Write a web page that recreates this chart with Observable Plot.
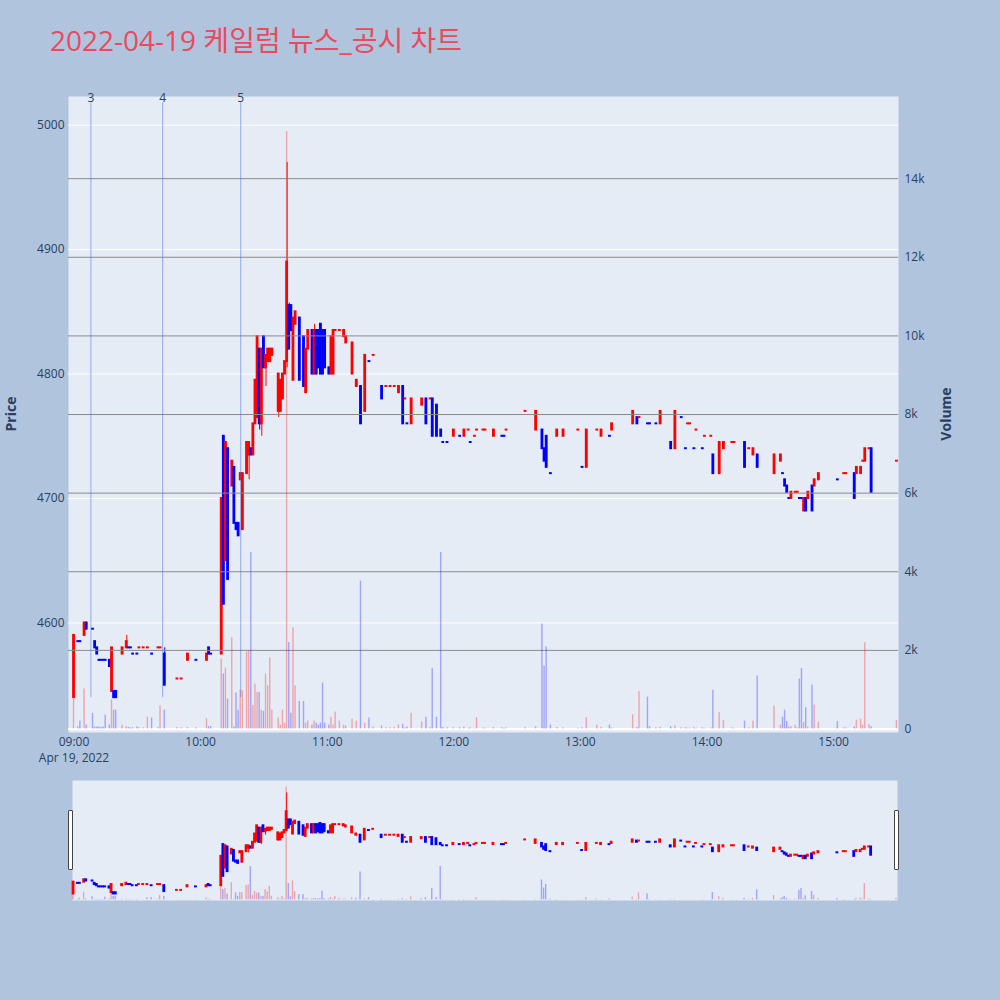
<!DOCTYPE html>
<html>
<head>
<meta charset="utf-8">
<script src="https://cdn.jsdelivr.net/npm/d3@7"></script>
<script src="https://cdn.jsdelivr.net/npm/@observablehq/plot@0.6"></script>
<style>
  html, body { margin: 0; padding: 0; background: #B0C4DE; }
  #wrap { position: relative; width: 1000px; height: 1000px; background: #B0C4DE; overflow: hidden;
          font-family: "Open Sans", "Noto Sans CJK KR", sans-serif; color: #2a3f5f; }
  #wrap svg { position: absolute; left: 0; overflow: visible; }
  .title { position: absolute; left: 50px; top: 26px; font-size: 28px; line-height: 28px; color: #ea4a5e; white-space: nowrap;
           font-family: "Open Sans", "Noto Sans CJK KR", sans-serif; }
  .ylab { position: absolute; font-size: 14px; font-weight: bold; color: #2a3f5f; white-space: nowrap;
          transform: translate(-50%, -50%) rotate(-90deg); }
  .grab { position: absolute; width: 3px; height: 58px; background: #fff; border: 1px solid #444; border-radius: 1px; }
</style>
</head>
<body>
<div id="wrap">
  <div class="title">2022-04-19 케일럼 뉴스_공시 차트</div>
  <div class="ylab" style="left:10px; top:414px;">Price</div>
  <div class="ylab" style="left:945px; top:414px;">Volume</div>
</div>
<script>
// ---- data (1-minute candles) ----
const times = ["09:00","09:02","09:03","09:05","09:06","09:09","09:10","09:11","09:12","09:13","09:14","09:15","09:17","09:18","09:19","09:20","09:23","09:25","09:26","09:27","09:28","09:30","09:31","09:33","09:35","09:37","09:40","09:41","09:43","09:49","09:51","09:54","09:58",
"10:03","10:04","10:05","10:10","10:11","10:12","10:13","10:15","10:16","10:17","10:18","10:19","10:20","10:22","10:23","10:24","10:25","10:26","10:27","10:28","10:29","10:30","10:31","10:32","10:33","10:34","10:37","10:38","10:39","10:40","10:41","10:42","10:43","10:44","10:45","10:47","10:49","10:50","10:51","10:53","10:54","10:55","10:56","10:57","10:58","10:59",
"11:01","11:02","11:03","11:04","11:06","11:08","11:09","11:12","11:14","11:16","11:18","11:20","11:22","11:26","11:28","11:30","11:32","11:34","11:36","11:37","11:38","11:40","11:45","11:47","11:49","11:50","11:52","11:54","11:55","11:57",
"12:00","12:03","12:05","12:07","12:08","12:10","12:11","12:14","12:15","12:19","12:23","12:24","12:25","12:34","12:39","12:42","12:43","12:44","12:46","12:49","12:52","12:59",
"13:01","13:03","13:08","13:10","13:14","13:15","13:25","13:27","13:28","13:32","13:33","13:36","13:38","13:43","13:45","13:48","13:50","13:51","13:52","13:54","13:55","13:58","13:59",
"14:02","14:03","14:06","14:08","14:12","14:13","14:18","14:20","14:22","14:24","14:32","14:35","14:36","14:37","14:38","14:39","14:40","14:42","14:43","14:44","14:45","14:46","14:47","14:48","14:50","14:51","14:53",
"15:02","15:05","15:06","15:10","15:11","15:13","15:14","15:15","15:17","15:18","15:30"];
const opens = [4540,4585,4585,4590,4600,4595,4585,4580,4570,4570,4570,4570,4570,4545,4545,4545,4575,4580,4580,4580,4575,4575,4580,4580,4580,4575,4580,4580,4575,4555,4555,4570,4570,
4570,4580,4575,4575,4750,4650,4740,4710,4725,4680,4680,4715,4675,4720,4735,4740,4735,4760,4765,4820,4760,4830,4805,4810,4810,4815,4770,4770,4780,4800,4810,4855,4855,4795,4840,4845,4830,4785,4820,4835,4800,4835,4835,4840,4835,4835,
4805,4800,4800,4835,4835,4830,4825,4800,4790,4790,4770,4810,4815,4790,4790,4790,4790,4785,4790,4780,4760,4760,4775,4780,4780,4780,4775,4755,4745,4745,
4750,4750,4750,4755,4745,4750,4755,4755,4755,4750,4750,4750,4755,4770,4755,4755,4740,4750,4720,4750,4750,4755,
4725,4725,4755,4750,4750,4755,4760,4765,4765,4760,4760,4760,4760,4745,4740,4765,4740,4760,4760,4740,4755,4740,4750,
4750,4735,4720,4740,4745,4745,4745,4740,4735,4735,4720,4730,4720,4715,4710,4700,4700,4705,4705,4700,4700,4690,4700,4700,4710,4710,4715,
4715,4720,4720,4720,4720,4720,4730,4730,4740,4740,4730];
const highs = [4590,4585,4585,4600,4600,4595,4585,4580,4570,4570,4570,4570,4570,4580,4545,4545,4580,4590,4580,4580,4575,4575,4580,4580,4580,4575,4580,4580,4580,4555,4555,4575,4570,
4575,4580,4575,4700,4750,4745,4740,4730,4725,4680,4680,4720,4720,4745,4745,4740,4760,4795,4830,4820,4820,4830,4815,4820,4820,4820,4800,4795,4800,4810,4970,4857,4855,4845,4850,4845,4830,4820,4835,4835,4840,4835,4835,4840,4835,4835,
4805,4830,4835,4835,4835,4835,4830,4825,4795,4790,4815,4810,4815,4790,4790,4790,4790,4790,4790,4780,4760,4780,4780,4780,4780,4780,4775,4755,4745,4745,
4755,4750,4755,4755,4745,4750,4755,4755,4755,4755,4750,4750,4755,4770,4770,4755,4740,4750,4720,4755,4755,4755,
4725,4755,4755,4755,4750,4760,4770,4765,4765,4760,4760,4760,4770,4745,4770,4765,4740,4760,4760,4740,4755,4740,4750,
4750,4735,4745,4745,4745,4745,4745,4740,4740,4735,4735,4735,4720,4715,4710,4700,4705,4705,4705,4700,4700,4700,4700,4705,4710,4715,4720,
4715,4720,4720,4720,4725,4725,4730,4740,4740,4740,4730];
const lows = [4540,4585,4585,4590,4595,4595,4580,4575,4570,4570,4570,4570,4565,4545,4540,4540,4575,4580,4580,4580,4575,4575,4580,4580,4580,4575,4580,4580,4550,4555,4555,4570,4570,
4570,4575,4575,4575,4615,4650,4635,4710,4680,4675,4670,4715,4675,4720,4715,4735,4735,4760,4765,4755,4750,4805,4790,4810,4810,4815,4765,4770,4780,4800,4805,4820,4835,4795,4840,4795,4790,4785,4820,4800,4800,4800,4805,4800,4800,4805,
4800,4800,4800,4835,4835,4830,4825,4800,4790,4760,4770,4810,4815,4780,4790,4790,4790,4785,4760,4780,4760,4760,4775,4760,4780,4750,4750,4750,4745,4745,
4750,4750,4750,4755,4745,4750,4755,4755,4755,4750,4750,4750,4755,4770,4755,4740,4730,4725,4720,4750,4750,4755,
4725,4725,4755,4750,4750,4755,4760,4760,4765,4760,4760,4760,4760,4740,4740,4765,4740,4760,4760,4740,4755,4740,4750,
4750,4720,4720,4740,4745,4745,4725,4740,4735,4725,4720,4730,4720,4710,4705,4700,4700,4705,4705,4700,4700,4690,4690,4700,4690,4710,4715,
4715,4720,4720,4700,4720,4720,4730,4730,4740,4705,4730];
const closes = [4590,4585,4585,4600,4595,4595,4580,4575,4570,4570,4570,4570,4565,4580,4540,4540,4580,4585,4580,4580,4575,4575,4580,4580,4580,4575,4580,4580,4550,4555,4555,4575,4570,
4575,4575,4575,4700,4615,4745,4635,4730,4680,4675,4670,4720,4720,4745,4745,4735,4760,4795,4830,4760,4820,4805,4815,4820,4820,4820,4800,4795,4800,4810,4890,4820,4835,4845,4850,4795,4790,4820,4835,4800,4835,4800,4805,4800,4800,4805,
4800,4830,4835,4835,4835,4835,4830,4825,4795,4760,4815,4810,4815,4780,4790,4790,4790,4790,4760,4780,4760,4780,4780,4760,4780,4750,4750,4750,4745,4745,
4755,4750,4755,4755,4745,4750,4755,4755,4755,4755,4750,4750,4755,4770,4770,4740,4730,4725,4720,4755,4755,4755,
4725,4755,4755,4755,4750,4760,4770,4760,4765,4760,4760,4760,4770,4740,4770,4765,4740,4760,4760,4740,4755,4740,4750,
4750,4720,4745,4745,4745,4745,4725,4740,4740,4725,4735,4735,4720,4710,4705,4700,4705,4705,4705,4700,4700,4700,4690,4705,4690,4715,4720,
4715,4720,4720,4700,4725,4725,4730,4740,4740,4705,4730];
const volumes = [760,50,200,1020,100,400,50,50,60,40,50,350,100,740,480,480,100,60,40,30,30,50,40,30,300,280,40,590,480,40,30,40,30,
260,60,60,1780,1400,1550,760,2320,50,920,480,990,980,1960,1990,4490,600,1140,930,930,480,450,1400,1100,1810,480,280,100,480,150,15200,2200,400,2570,1100,700,700,150,200,100,200,150,100,150,1170,150,
100,300,100,430,200,100,80,250,200,3760,150,280,50,75,30,30,40,100,120,30,50,400,180,300,40,1535,300,4490,40,30,
40,30,50,20,30,20,290,30,20,40,30,20,30,40,60,2670,1600,2090,100,40,30,20,
30,290,100,40,100,30,360,40,950,810,60,30,40,60,80,30,30,20,20,30,20,30,20,
30,985,415,220,30,20,200,30,200,1350,585,100,300,480,190,50,60,100,30,1270,1535,170,540,50,1120,610,170,
190,30,30,50,220,250,100,2200,110,60,220];
const priceTicks = [4600, 4700, 4800, 4900, 5000];
const volumeTicks = [0, 2000, 4000, 6000, 8000, 10000, 12000, 14000];
const timeTicks = ["09:00","10:00","11:00","12:00","13:00","14:00","15:00"];
const eventTimes = ["09:08","09:42","10:19"];
const eventLabels = ["3","4","5"];

// ---- helpers ----
const toDate = (s, sec = 0) => new Date(Date.UTC(2022, 3, 19, +s.slice(0, 2), +s.slice(3, 5), sec));
const shift = (d, s) => new Date(+d + s * 1000);

// plotly-style direction: flat candles compare with previous close
let prevC = null, inc = true;
const rows = times.map((t, i) => {
  const o = opens[i], c = closes[i];
  if (c !== o) inc = c > o;
  else if (prevC !== null && c !== prevC) inc = c > prevC;
  prevC = c;
  return { t: toDate(t), o, h: highs[i], l: lows[i], c, v: volumes[i], col: inc ? "#ff0000" : "#0000ff" };
});

const FONT = '"Open Sans", "Noto Sans CJK KR", sans-serif';
const TXT = "#2a3f5f";
const wrap = document.getElementById("wrap");
function place(svg, top) { svg.style.top = top + "px"; wrap.appendChild(svg); }

// main frame: x 68..898, y 96..732
const mainX = [toDate("08:57", 23), toDate("15:30", 45)];
const priceDomain = [4512, 5023];
const volDomain = [-89, 16090];
const H = 780, mT = 96, mB = H - 732, mL = 68, mR = 1000 - 898;

const candleMarks = [
  Plot.ruleX(rows, { x: "t", y1: "l", y2: "h", stroke: "col", strokeWidth: 1 }),
  Plot.rect(rows, { x1: d => shift(d.t, -40), x2: d => shift(d.t, 40),
    y1: d => Math.min(d.o, d.c), y2: d => Math.max(d.o, d.c), fill: "col",
    insetLeft: 0, insetRight: 0, insetTop: -1, insetBottom: -1 })
];
const volMarks = [
  Plot.rect(rows, { x1: d => shift(d.t, -20), x2: d => shift(d.t, 20), y1: 0, y2: "v", fill: "col", fillOpacity: 0.3, inset: 0 })
];

// price layer
const pricePlot = Plot.plot({
  width: 1000, height: H, marginTop: mT, marginBottom: mB, marginLeft: mL, marginRight: mR,
  style: { background: "transparent", fontFamily: FONT, fontSize: "12px", color: TXT },
  x: { type: "utc", domain: mainX, ticks: timeTicks.map(t => toDate(t)), tickFormat: d3.utcFormat("%H:%M"), tickSize: 0, tickPadding: 5, label: null },
  y: { domain: priceDomain, ticks: priceTicks, tickFormat: d => String(d), tickSize: 0, tickPadding: 4, label: null },
  marks: [
    Plot.frame({ fill: "#E5ECF6", stroke: null }),
    Plot.ruleY(priceTicks, { stroke: "white", strokeWidth: 1 }),
    ...candleMarks,
    Plot.text(["Apr 19, 2022"], { x: () => toDate("09:00"), frameAnchor: "bottom", dy: 29, text: d => d, fill: TXT, fontSize: 12 })
  ]
});
place(pricePlot, 0);

// volume layer (overlay, right axis)
const volPlot = Plot.plot({
  width: 1000, height: H, marginTop: mT, marginBottom: mB, marginLeft: mL, marginRight: mR,
  style: { background: "transparent", fontFamily: FONT, fontSize: "12px", color: TXT },
  x: { type: "utc", domain: mainX, axis: null },
  y: { domain: volDomain, axis: "right", ticks: volumeTicks, tickFormat: d => d === 0 ? "0" : (d / 1000) + "k", tickSize: 0, tickPadding: 6, label: null },
  marks: [
    Plot.ruleY(volumeTicks.filter(d => d > 0), { stroke: "#8a8a8a", strokeWidth: 1 }),
    Plot.ruleY([0], { stroke: "white", strokeWidth: 2 }),
    ...volMarks
  ]
});
place(volPlot, 0);

// event lines (shapes above traces)
const evPlot = Plot.plot({
  width: 1000, height: H, marginTop: mT, marginBottom: mB, marginLeft: mL, marginRight: mR,
  style: { background: "transparent", fontFamily: FONT, fontSize: "12px", color: TXT },
  x: { type: "utc", domain: mainX, axis: null },
  y: { domain: priceDomain, axis: null },
  marks: [
    Plot.ruleX(eventTimes, { x: d => toDate(d), y1: 4540, y2: 5018, stroke: "royalblue", strokeOpacity: 0.5, strokeWidth: 1 }),
    Plot.text(eventTimes, { x: d => toDate(d), frameAnchor: "top", dy: -3, text: (d, i) => eventLabels[i], fill: TXT, fontSize: 12 })
  ]
});
place(evPlot, 0);

// range slider: x 72..897, y 780..900
const sliderX = [toDate("08:59", 30), toDate("15:30", 30)];
const sH = 120, sL = 72, sR = 1000 - 897;
const sPrice = Plot.plot({
  width: 1000, height: sH, marginTop: 0, marginBottom: 0, marginLeft: sL, marginRight: sR,
  style: { background: "transparent" },
  x: { type: "utc", domain: sliderX, axis: null },
  y: { domain: priceDomain, axis: null },
  marks: [ Plot.frame({ fill: "#E5ECF6", stroke: null }), ...candleMarks ]
});
place(sPrice, 780);
const sVol = Plot.plot({
  width: 1000, height: sH, marginTop: 0, marginBottom: 0, marginLeft: sL, marginRight: sR,
  style: { background: "transparent" },
  x: { type: "utc", domain: sliderX, axis: null },
  y: { domain: volDomain, axis: null },
  marks: volMarks
});
place(sVol, 780);

// slider grabbers
[68, 894].forEach(left => {
  const g = document.createElement("div");
  g.className = "grab";
  g.style.left = left + "px";
  g.style.top = "810px";
  wrap.appendChild(g);
});
</script>
</body>
</html>
